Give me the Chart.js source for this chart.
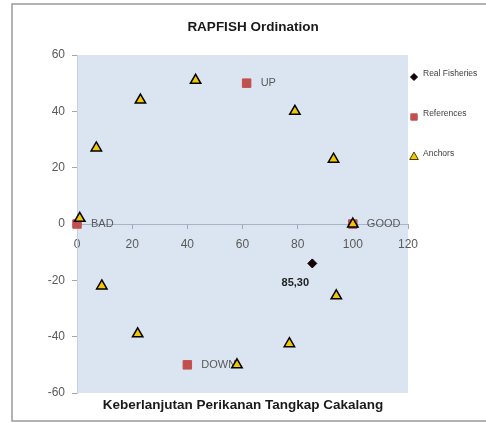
<!DOCTYPE html>
<html>
<head>
<meta charset="utf-8">
<script src="https://cdn.jsdelivr.net/npm/chart.js@4/dist/chart.umd.min.js"></script>
<style>
  html, body { margin: 0; padding: 0; background: #fff; }
  #wrap { width: 486px; height: 423px; }
</style>
</head>
<body>
<div id="wrap"><canvas id="ordChart" width="486" height="423"></canvas></div>
<script>
// nilai
const anchorX = [1, 7, 23, 43, 79, 93, 100, 9, 22, 58, 77, 94];
const anchorY = [2, 27, 44, 51, 40, 23, 0, -22, -39, -50, -42.5, -25.5];

const refNames = ['BAD', 'GOOD', 'UP', 'DOWN'];
const refX = [0, 100, 61.5, 40];
const refY = [0, 0, 50, -50];

const fisheryX = [85.3];
const fisheryY = [-14];
const fisheryLabels = ['85,30'];

const xTicks = [0, 20, 40, 60, 80, 100, 120];
const yTicks = [-60, -40, -20, 0, 20, 40, 60];

const legendNames = ['Real Fisheries', 'References', 'Anchors'];

const FONT = '"Liberation Sans", Arial, sans-serif';
const GREY = '#595959';

const toPoints = (xs, ys) => xs.map((x, i) => ({ x: x, y: ys[i] }));

const bgPlugin = {
  id: 'bgPlugin',
  beforeDraw(chart) {
    const { ctx, chartArea: a } = chart;
    ctx.save();
    ctx.fillStyle = '#fff';
    ctx.fillRect(0, 0, chart.width, chart.height);
    ctx.strokeStyle = '#9a9a9a';
    ctx.lineWidth = 1.5;
    ctx.strokeRect(12, 4, 490, 417);
    ctx.fillStyle = '#dbe5f1';
    ctx.fillRect(a.left, a.top, a.right - a.left, a.bottom - a.top);
    ctx.restore();
  }
};

const textPlugin = {
  id: 'textPlugin',
  beforeDatasetsDraw(chart) {
    const ctx = chart.ctx;
    ctx.save();
    ctx.textBaseline = 'middle';
    // label referensi
    const refMeta = chart.getDatasetMeta(1);
    ctx.font = '11px ' + FONT;
    ctx.fillStyle = GREY;
    ctx.textAlign = 'left';
    refMeta.data.forEach((p, i) => {
      ctx.fillText(refNames[i], p.x + 14, p.y);
    });
    // label perikanan
    const fMeta = chart.getDatasetMeta(2);
    ctx.font = 'bold 11px ' + FONT;
    ctx.fillStyle = '#222';
    ctx.textAlign = 'center';
    fMeta.data.forEach((p, i) => {
      ctx.fillText(fisheryLabels[i], p.x - 17, p.y + 20);
    });
    ctx.restore();
  },
  afterDraw(chart) {
    const ctx = chart.ctx;
    ctx.save();
    ctx.fillStyle = '#1a1a1a';
    ctx.textAlign = 'center';
    ctx.textBaseline = 'middle';
    ctx.font = 'bold 13.5px ' + FONT;
    ctx.fillText('RAPFISH Ordination', 253, 27);
    ctx.fillText('Keberlanjutan Perikanan Tangkap Cakalang', 243, 405);

    // legenda
    const styles = [
      { pointStyle: 'rectRot', radius: 3.5, borderWidth: 1, fill: '#1a0000', stroke: '#000' },
      { pointStyle: 'rect', radius: 4.5, borderWidth: 1, fill: '#c0504d', stroke: '#c0504d' },
      { pointStyle: 'triangle', radius: 5, borderWidth: 1, fill: '#f2c600', stroke: '#4a3e00' }
    ];
    const ys = [77, 117, 157];
    ctx.font = '8.5px ' + FONT;
    ctx.textAlign = 'left';
    legendNames.forEach((name, i) => {
      ctx.fillStyle = styles[i].fill;
      ctx.strokeStyle = styles[i].stroke;
      ctx.lineWidth = 1;
      Chart.helpers.drawPoint(ctx, styles[i], 414, ys[i]);
      ctx.fillStyle = '#404040';
      ctx.fillText(name, 423, ys[i] - 3);
    });
    ctx.restore();
  }
};

new Chart(document.getElementById('ordChart'), {
  type: 'scatter',
  data: {
    datasets: [
      {
        label: 'Anchors',
        data: toPoints(anchorX, anchorY),
        pointStyle: 'triangle',
        pointRadius: 6,
        pointHoverRadius: 6,
        backgroundColor: '#f2c600',
        borderColor: '#000',
        borderWidth: 1.5,
        order: 0,
        clip: false
      },
      {
        label: 'References',
        data: toPoints(refX, refY),
        pointStyle: 'rect',
        pointRadius: 6,
        pointHoverRadius: 6,
        backgroundColor: '#c0504d',
        borderColor: '#c0504d',
        borderWidth: 1,
        order: 1,
        clip: false
      },
      {
        label: 'Real Fisheries',
        data: toPoints(fisheryX, fisheryY),
        pointStyle: 'rectRot',
        pointRadius: 4.5,
        pointHoverRadius: 4.5,
        backgroundColor: '#1a0000',
        borderColor: '#000',
        borderWidth: 1,
        order: 2,
        clip: false
      }
    ]
  },
  options: {
    responsive: false,
    animation: false,
    layout: { padding: { left: 0, top: 55, right: 78, bottom: 30 } },
    plugins: {
      legend: { display: false },
      title: { display: false },
      tooltip: { enabled: false }
    },
    scales: {
      x: {
        type: 'linear',
        position: { y: 0 },
        min: 0,
        max: 120,
        afterBuildTicks(scale) { scale.ticks = xTicks.map(v => ({ value: v })); },
        grid: { drawOnChartArea: false, tickLength: 4, color: '#a6a6a6' },
        border: { color: '#a6b4c8' },
        ticks: { color: GREY, font: { family: FONT, size: 12 }, padding: 9, maxRotation: 0 }
      },
      y: {
        type: 'linear',
        position: 'left',
        min: -60,
        max: 60,
        afterBuildTicks(scale) { scale.ticks = yTicks.map(v => ({ value: v })); },
        afterFit(scale) { scale.width = 77; },
        grid: { drawOnChartArea: false, tickLength: 5, color: '#a6a6a6' },
        border: { color: '#c8d2de' },
        ticks: { color: GREY, font: { family: FONT, size: 12 }, padding: 7 }
      }
    }
  },
  plugins: [bgPlugin, textPlugin]
});
</script>
</body>
</html>
